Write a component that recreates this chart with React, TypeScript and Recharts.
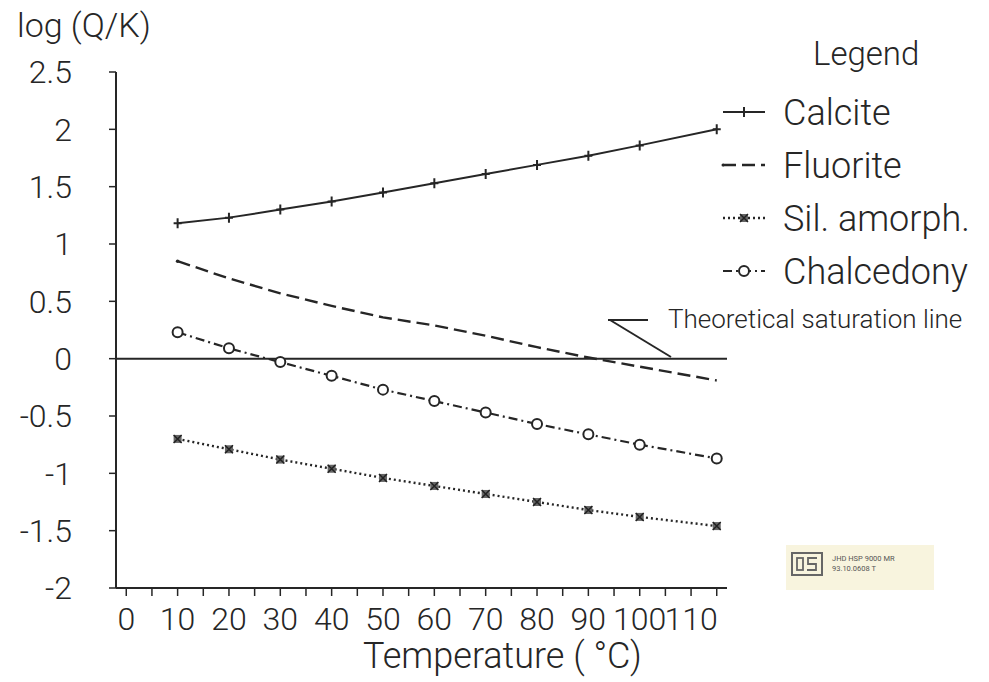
import React from 'react'
import {
  Legend,
  Line,
  LineChart,
  ReferenceLine,
  XAxis,
  YAxis
} from 'recharts'

const temperatures = [10, 20, 30, 40, 50, 60, 70, 80, 90, 100, 115]
const calcite = [1.18, 1.23, 1.3, 1.37, 1.45, 1.53, 1.61, 1.69, 1.77, 1.86, 2.0]
const fluorite = [0.85, 0.7, 0.57, 0.46, 0.36, 0.29, 0.2, 0.1, 0.01, -0.07, -0.19]
const silAmorph = [-0.7, -0.79, -0.88, -0.96, -1.04, -1.11, -1.18, -1.25, -1.32, -1.38, -1.46]
const chalcedony = [0.23, 0.09, -0.03, -0.15, -0.27, -0.37, -0.47, -0.57, -0.66, -0.75, -0.87]

const seriesKeys = ['calcite', 'fluorite', 'silAmorph', 'chalcedony']
const seriesNames = ['Calcite', 'Fluorite', 'Sil. amorph.', 'Chalcedony']

const xTicks = [0, 5, 10, 15, 20, 25, 30, 35, 40, 45, 50, 55, 60, 65, 70, 75, 80, 85, 90, 95, 100, 105, 110, 115]
const yTicks = [-2, -1.5, -1, -0.5, 0, 0.5, 1, 1.5, 2, 2.5]

const data = temperatures.map((t, i) => ({
  t,
  calcite: calcite[i],
  fluorite: fluorite[i],
  silAmorph: silAmorph[i],
  chalcedony: chalcedony[i]
}))

const font = 'Roboto, "DejaVu Sans", sans-serif'
const ink = '#262626'

const styles: Record<string, { dash?: string; width: number }> = {
  calcite: { width: 2 },
  fluorite: { dash: '13 6', width: 2.4 },
  silAmorph: { dash: '2 3', width: 2.4 },
  chalcedony: { dash: '9 4 2 4', width: 2.2 }
}

function Marker({ kind, cx, cy }: { kind: string; cx: number; cy: number }) {
  if (kind === 'calcite') {
    return (
      <path
        d={`M${cx - 4},${cy}L${cx + 4},${cy}M${cx},${cy - 5}L${cx},${cy + 5}`}
        stroke={ink}
        strokeWidth={2}
      />
    )
  }
  if (kind === 'silAmorph') {
    return (
      <g>
        <rect x={cx - 4} y={cy - 4} width={8} height={8} fill='#666' />
        <path
          d={`M${cx - 4},${cy - 4}L${cx + 4},${cy + 4}M${cx + 4},${cy - 4}L${cx - 4},${cy + 4}`}
          stroke='#222'
          strokeWidth={1.5}
        />
      </g>
    )
  }
  if (kind === 'chalcedony') {
    return <circle cx={cx} cy={cy} r={5} fill='#fff' stroke={ink} strokeWidth={2} />
  }
  return <circle cx={cx} cy={cy} r={1.8} fill={ink} />
}

const dotFor = (kind: string) => (props: any) => {
  const { cx, cy, index } = props
  if (kind === 'fluorite' && index !== 0) return <g key={`${kind}-${index}`} />
  return (
    <g key={`${kind}-${index}`}>
      <Marker kind={kind} cx={cx} cy={cy} />
    </g>
  )
}

function LegendBox(props: any) {
  // keep the plot's own order, not the alphabetical one
  const payload = [...(props.payload || [])].sort(
    (a: any, b: any) => seriesKeys.indexOf(a.dataKey) - seriesKeys.indexOf(b.dataKey)
  )
  return (
    <svg width={289} height={280} style={{ display: 'block' }}>
      <text x={113} y={35} fontSize={33} fontFamily={font} fontWeight={300} fill={ink}>
        Legend
      </text>
      {payload.map((p: any, i: number) => {
        const y = 82 + i * 53
        const s = styles[p.dataKey]
        return (
          <g key={p.dataKey}>
            <line
              x1={23}
              x2={65}
              y1={y}
              y2={y}
              stroke={ink}
              strokeWidth={s.width}
              strokeDasharray={s.dash}
            />
            {p.dataKey !== 'fluorite' && <Marker kind={p.dataKey} cx={44} cy={y} />}
            {p.dataKey === 'fluorite' && <circle cx={23} cy={y} r={1.5} fill={ink} />}
            <text x={83} y={y + 13} fontSize={36} fontFamily={font} fontWeight={300} fill={ink}>
              {p.value}
            </text>
          </g>
        )
      })}
    </svg>
  )
}

export default function App() {
  const tickStyle = { fontSize: 32, fontFamily: font, fontWeight: 300, fill: ink }

  return (
    <div style={{ position: 'absolute', left: 0, top: 0, width: 989, height: 682, background: '#fff' }}>
      <LineChart
        width={989}
        height={682}
        data={data}
        margin={{ top: 72, right: 262, bottom: 0, left: 0 }}
      >
        <XAxis
          dataKey='t'
          type='number'
          domain={[-2, 117]}
          ticks={xTicks}
          interval={0}
          tickFormatter={(v: number) => (v % 10 === 0 ? String(v) : '')}
          height={94}
          tickSize={8}
          tickMargin={11}
          tick={tickStyle}
          stroke={ink}
          axisLine={{ stroke: ink, strokeWidth: 2 }}
          tickLine={{ stroke: ink, strokeWidth: 1.5 }}
        />
        <YAxis
          type='number'
          domain={[-2, 2.5]}
          ticks={yTicks}
          interval={0}
          width={116}
          tickSize={7}
          tickMargin={37}
          tick={tickStyle}
          stroke={ink}
          axisLine={{ stroke: ink, strokeWidth: 2 }}
          tickLine={{ stroke: ink, strokeWidth: 1.5 }}
        />
        <ReferenceLine y={0} stroke={ink} strokeWidth={2} />
        {seriesKeys.map((key, i) => (
          <Line
            key={key}
            dataKey={key}
            name={seriesNames[i]}
            type='linear'
            stroke={ink}
            strokeWidth={styles[key].width}
            strokeDasharray={styles[key].dash}
            dot={dotFor(key)}
            activeDot={false}
            isAnimationActive={false}
          />
        ))}
        <Legend
          layout='vertical'
          align='center'
          verticalAlign='middle'
          content={LegendBox}
          wrapperStyle={{ left: 700, top: 30, width: 289, height: 280 }}
        />
      </LineChart>
      <svg
        width={989}
        height={682}
        style={{ position: 'absolute', left: 0, top: 0, pointerEvents: 'none' }}
      >
        <text x={17} y={37} fontSize={34} fontFamily={font} fontWeight={300} fill={ink}>
          log (Q/K)
        </text>
        <text x={363} y={668} fontSize={36} fontFamily={font} fontWeight={300} fill={ink}>
          Temperature ( °C)
        </text>
        <line x1={608} y1={320} x2={648} y2={320} stroke={ink} strokeWidth={2} />
        <line x1={610} y1={320} x2={671} y2={357} stroke={ink} strokeWidth={2} />
        <text x={668} y={328} fontSize={26} fontFamily={font} fontWeight={300} fill={ink}>
          Theoretical saturation line
        </text>
        <rect x={786} y={545} width={148} height={45} fill='#f8f4de' />
        <rect x={792} y={553} width={30} height={22} fill='none' stroke='#666' strokeWidth={2} />
        <rect x={797} y={558} width={6} height={12} fill='none' stroke='#666' strokeWidth={1.8} />
        <path d='M817,558 L808,558 L808,564 L816,564 L816,570 L807,570' fill='none' stroke='#666' strokeWidth={1.8} />
        <text x={832} y={561} fontSize={7.5} fontFamily={font} fill='#555'>
          JHD HSP 9000 MR
        </text>
        <text x={832} y={571} fontSize={7.5} fontFamily={font} fill='#555'>
          93.10.0608 T
        </text>
      </svg>
    </div>
  )
}
